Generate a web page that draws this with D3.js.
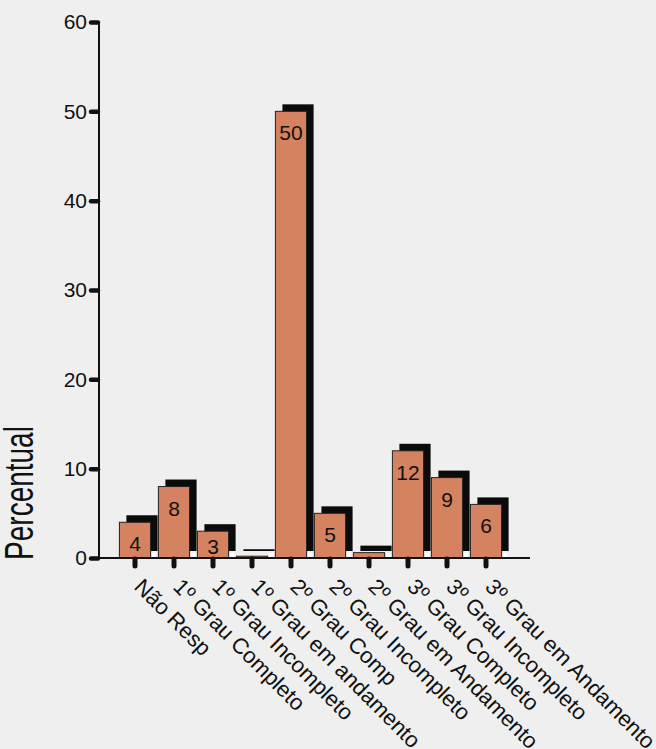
<!DOCTYPE html>
<html>
<head>
<meta charset="utf-8">
<script src="https://cdn.jsdelivr.net/npm/d3@7"></script>
<style>
  html, body { margin: 0; padding: 0; background: #efefef; }
  svg { display: block; }
  text { font-family: "Liberation Sans", Arial, sans-serif; fill: #111; }
</style>
</head>
<body>
<div id="chart"></div>
<script>
const categories = [
  "Não Resp",
  "1º Grau Completo",
  "1º Grau Incompleto",
  "1º Grau em andamento",
  "2º Grau Comp",
  "2º Grau Incompleto",
  "2º Grau em Andamento",
  "3º Grau Completo",
  "3º Grau Incompleto",
  "3º Grau em Andamento"
];
const values = [4, 8, 3, 0.2, 50, 5, 0.6, 12, 9, 6];
const valueLabels = ["4", "8", "3", "", "50", "5", "", "12", "9", "6"];
const yTicks = [0, 10, 20, 30, 40, 50, 60];
const yTitle = "Percentual";

const W = 656, H = 749;
const svg = d3.select("#chart").append("svg").attr("width", W).attr("height", H);
svg.append("rect").attr("width", W).attr("height", H).attr("fill", "#efefef");

const y = d3.scaleLinear().domain([0, 60]).range([558, 22]);
const x = d3.scaleBand().domain(categories).range([115.5, 505.5])
  .paddingInner(0.2).paddingOuter(0.1);

const axisX0 = 99, axisX1 = 530;
const shX = 7, shY = 7;

const data = categories.map((c, i) => ({ c, v: values[i], lab: valueLabels[i] }));

// shadows
svg.append("g").selectAll("rect").data(data).join("rect")
  .attr("x", d => x(d.c) + shX)
  .attr("y", d => y(d.v) - shY)
  .attr("width", x.bandwidth())
  .attr("height", d => y(0) - y(d.v))
  .attr("fill", "#0b0b0b");

// small light gaps under shadow bottoms
svg.append("g").selectAll("rect").data(data).join("rect")
  .attr("x", d => x(d.c) + x.bandwidth() + 1.5)
  .attr("y", y(0) - shY + 2)
  .attr("width", shX - 3)
  .attr("height", shY - 3)
  .attr("fill", "#ffffff");

// front bars
svg.append("g").selectAll("rect").data(data).join("rect")
  .attr("x", d => x(d.c))
  .attr("y", d => y(d.v))
  .attr("width", x.bandwidth())
  .attr("height", d => Math.max(1, y(0) - y(d.v)))
  .attr("fill", "#d4825f")
  .attr("stroke", "#222")
  .attr("stroke-width", 1);

// value labels
svg.append("g").selectAll("text").data(data.filter(d => d.lab !== "")).join("text")
  .attr("x", d => x(d.c) + x.bandwidth() / 2)
  .attr("y", d => Math.min(y(d.v) + 29, y(0) - 4))
  .attr("text-anchor", "middle")
  .attr("font-size", 21)
  .text(d => d.lab);

// y axis
const gy = svg.append("g").attr("transform", `translate(${axisX0},0)`)
  .call(d3.axisLeft(y).tickValues(yTicks).tickSize(8).tickSizeOuter(0).tickPadding(4));
gy.select(".domain").remove();
gy.selectAll(".tick line").attr("stroke", "#111").attr("stroke-width", 4.5)
  .attr("stroke-linecap", "round").attr("x1", -1);
gy.selectAll(".tick text").attr("font-size", 21).attr("fill", "#111")
  .attr("font-family", "Liberation Sans, Arial, sans-serif");
svg.append("line").attr("x1", axisX0).attr("x2", axisX0)
  .attr("y1", y(60)).attr("y2", y(0)).attr("stroke", "#111").attr("stroke-width", 2);

// x axis
const gx = svg.append("g").attr("transform", `translate(0,${y(0)})`)
  .call(d3.axisBottom(x).tickSize(8).tickSizeOuter(0));
gx.select(".domain").remove();
gx.selectAll(".tick line").attr("stroke", "#111").attr("stroke-width", 5)
  .attr("stroke-linecap", "round").attr("y1", 1);
gx.selectAll(".tick text")
  .attr("font-size", 22).attr("fill", "#111")
  .attr("font-family", "Liberation Sans, Arial, sans-serif")
  .attr("text-anchor", "start")
  .attr("x", null).attr("y", null).attr("dy", null)
  .attr("transform", "translate(-2,30) rotate(45)");
svg.append("line").attr("x1", axisX0).attr("x2", axisX1)
  .attr("y1", y(0)).attr("y2", y(0)).attr("stroke", "#111").attr("stroke-width", 2);

// y title
svg.append("text")
  .attr("transform", "translate(33,493) rotate(-90) scale(1,1.45)")
  .attr("text-anchor", "middle")
  .attr("font-size", 28)
  .text(yTitle);
</script>
</body>
</html>
